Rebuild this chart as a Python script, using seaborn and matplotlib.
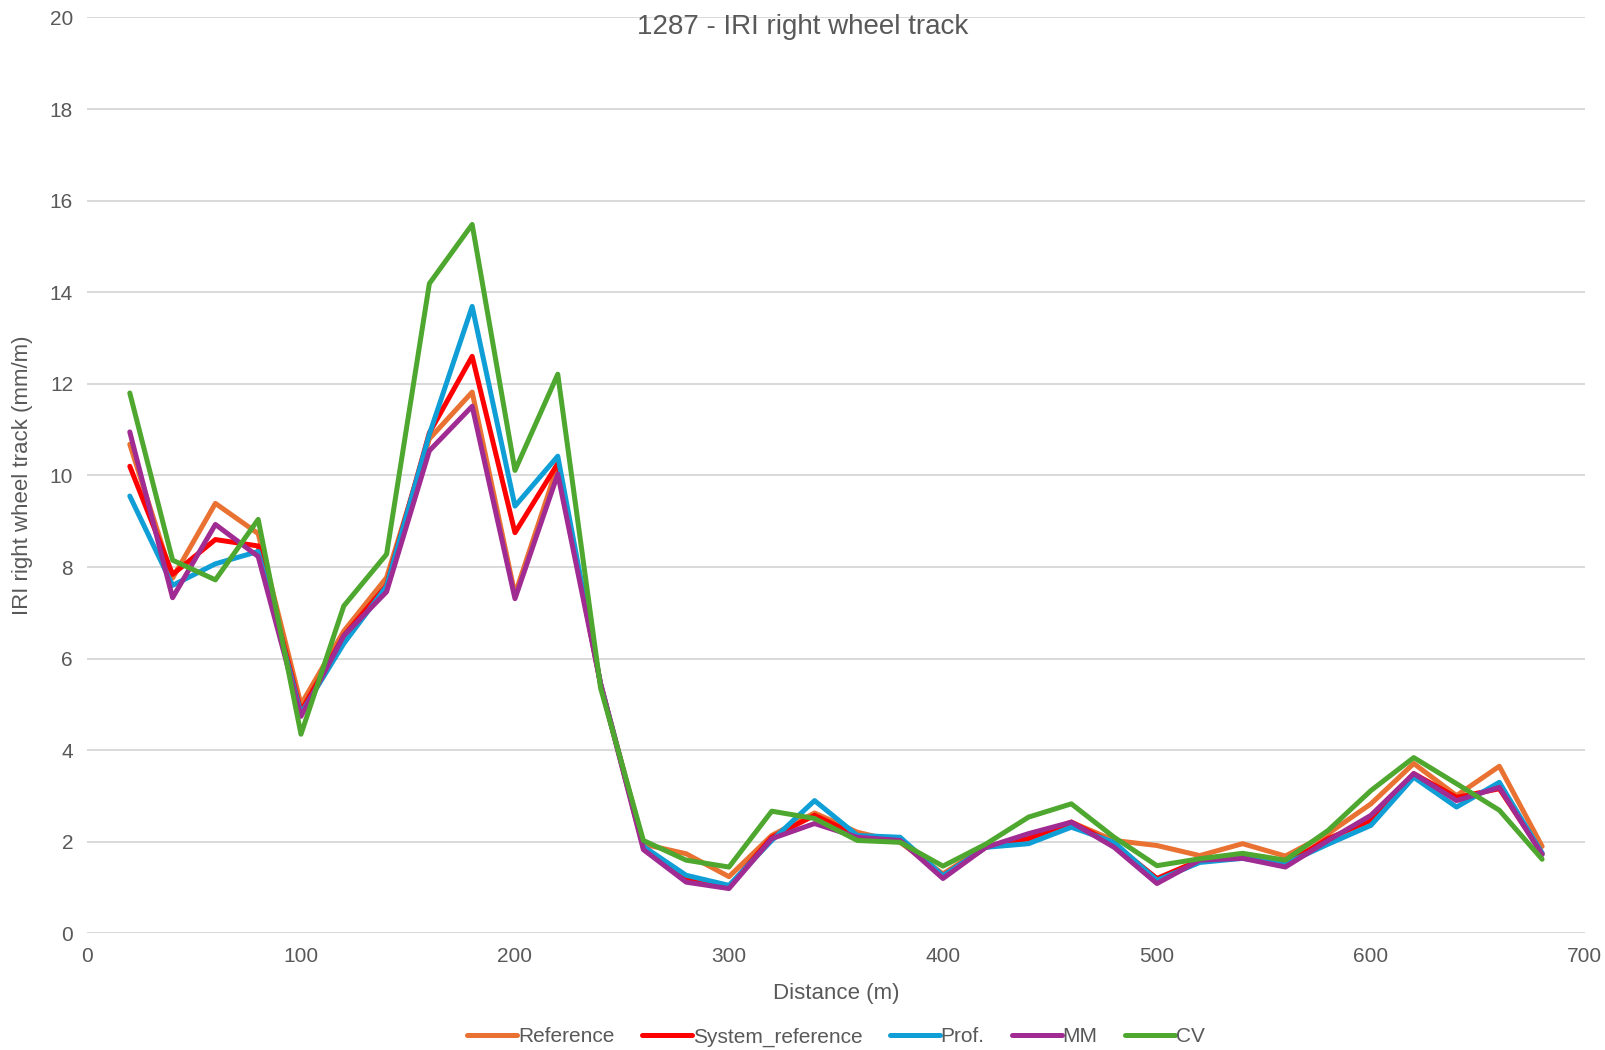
import pandas as pd
import matplotlib.pyplot as plt
import seaborn as sns

# distance along the section (m)
distance = [20, 40, 60, 80, 100, 120, 140, 160, 180, 200, 220, 240, 260, 280, 300, 320, 340,
            360, 380, 400, 420, 440, 460, 480, 500, 520, 540, 560, 580, 600, 620, 640, 660, 680]

# IRI values (mm/m)
reference = [10.68, 7.76, 9.39, 8.73, 5.0, 6.6, 7.77, 10.8, 11.82, 7.4, 10.22, 5.45, 1.95, 1.74, 1.24,
             2.14, 2.63, 2.21, 1.99, 1.3, 1.9, 2.07, 2.43, 2.03, 1.92, 1.7, 1.96, 1.69, 2.18, 2.83,
             3.71, 3.01, 3.65, 1.9]
system_reference = [10.2, 7.84, 8.6, 8.46, 4.85, 6.5, 7.6, 10.93, 12.6, 8.75, 10.26, 5.45, 1.88, 1.2, 1.02,
                    2.1, 2.58, 2.14, 2.03, 1.26, 1.88, 2.07, 2.43, 1.95, 1.2, 1.6, 1.68, 1.52, 2.07, 2.47,
                    3.49, 2.97, 3.16, 1.75]
prof = [9.55, 7.6, 8.07, 8.34, 4.8, 6.33, 7.58, 10.9, 13.69, 9.33, 10.42, 5.45, 1.9, 1.27, 1.05,
        2.03, 2.9, 2.14, 2.1, 1.26, 1.88, 1.96, 2.32, 1.99, 1.16, 1.55, 1.64, 1.52, 1.95, 2.36,
        3.41, 2.76, 3.3, 1.75]
mm = [10.95, 7.33, 8.93, 8.23, 4.74, 6.5, 7.46, 10.54, 11.51, 7.31, 10.03, 5.45, 1.83, 1.12, 0.98,
      2.07, 2.4, 2.1, 2.03, 1.2, 1.88, 2.18, 2.43, 1.88, 1.09, 1.6, 1.64, 1.45, 2.03, 2.58,
      3.49, 2.9, 3.19, 1.72]
cv = [11.8, 8.15, 7.72, 9.04, 4.35, 7.15, 8.28, 14.19, 15.48, 10.11, 12.21, 5.36, 2.03, 1.6, 1.45,
      2.67, 2.51, 2.03, 1.99, 1.47, 1.95, 2.54, 2.83, 2.1, 1.48, 1.63, 1.75, 1.6, 2.25, 3.12,
      3.84, 3.27, 2.69, 1.62]

series_names = ['Reference', 'System_reference', 'Prof.', 'MM', 'CV']
series_values = [reference, system_reference, prof, mm, cv]
colors = ['#E97132', '#FF0000', '#0F9ED5', '#A02B93', '#4EA72E']

df = pd.concat([pd.DataFrame({'Distance': distance, 'IRI': vals, 'Series': name})
                for name, vals in zip(series_names, series_values)], ignore_index=True)

sns.set_style('white')
plt.rcParams['font.family'] = ['Liberation Sans', 'DejaVu Sans']

fig = plt.figure(figsize=(16.05, 10.5), dpi=100)
ax = fig.add_axes([0.0542, 0.111, 0.9333, 0.8724])

sns.lineplot(data=df, x='Distance', y='IRI', hue='Series', hue_order=series_names,
             palette=colors, linewidth=3.6, ax=ax, legend=True)

ax.set_xlim(0, 700)
ax.set_ylim(0, 20)
ax.set_xticks(range(0, 701, 100))
ax.set_yticks(range(0, 21, 2))
ax.grid(axis='y', color='#d9d9d9', linewidth=1.4)
ax.set_axisbelow(True)
for s in ax.spines.values():
    s.set_visible(False)
ax.tick_params(axis='both', length=0, labelsize=15, labelcolor='#595959', pad=10)

ax.set_xlabel('Distance (m)', fontsize=16, color='#595959', labelpad=12)
ax.set_ylabel('IRI right wheel track (mm/m)', fontsize=16, color='#595959', labelpad=12)
fig.text(0.5, 0.987, '1287 - IRI right wheel track', ha='center', va='top',
         fontsize=20, color='#595959')

handles, labels = ax.get_legend_handles_labels()
ax.legend(handles, labels, loc='center', bbox_to_anchor=(0.5, -0.113), ncol=5,
          frameon=False, fontsize=15, labelcolor='#595959', handlelength=2.4,
          handletextpad=0.05, columnspacing=1.3)

fig.savefig('out.png', dpi=100)
